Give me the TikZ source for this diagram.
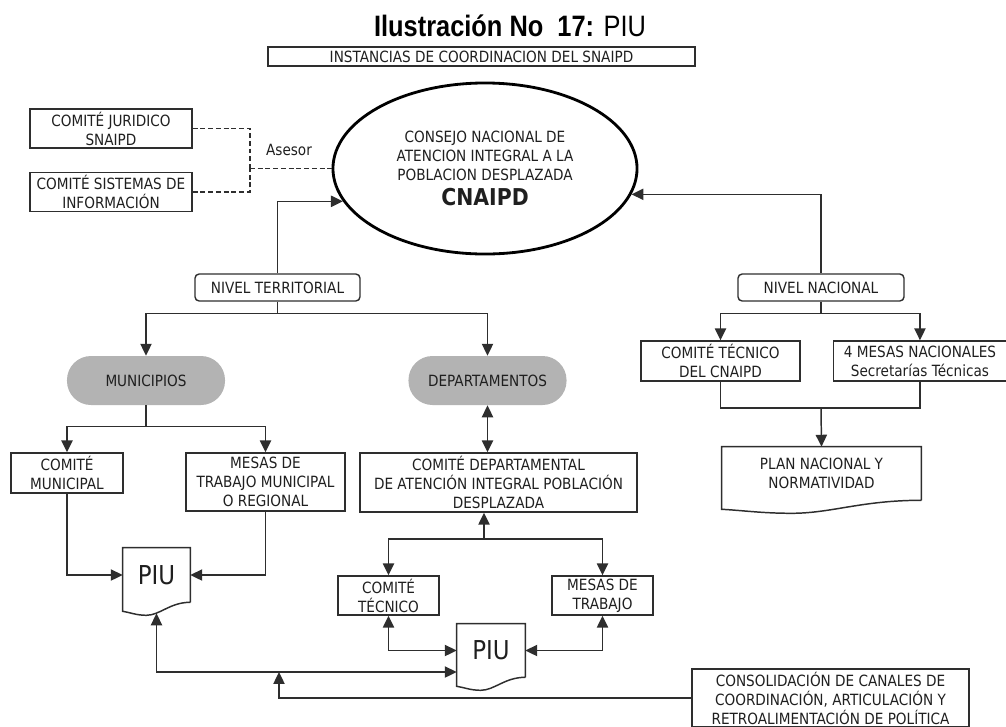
\documentclass[tikz,border=0pt]{standalone}
\usepackage{fontspec}
\setmainfont[FakeStretch=0.88]{DejaVu Sans}
\newfontfamily\titlefont[FakeStretch=0.86]{Liberation Sans}
\usepackage{tikz}
\usetikzlibrary{positioning, shapes.geometric, arrows.meta, calc}
\definecolor{inkgray}{HTML}{1F1F1F}
\definecolor{linegray}{HTML}{2E2E2E}
\definecolor{pillgray}{HTML}{B3B3B3}
\newcommand{\boxfont}{\fontsize{11}{13.5}\selectfont}
\newcommand{\piufont}{\fontsize{18.5}{21}\selectfont}
\tikzstyle{box} = [rectangle, draw=linegray, line width=1pt, text=inkgray, align=center, inner sep=1pt, font=\boxfont]
\tikzstyle{tier} = [box, rounded corners=3pt, minimum width=4.125cm, minimum height=0.675cm]
\tikzstyle{pill} = [rectangle, rounded corners=0.6cm, fill=pillgray, text=inkgray, font=\boxfont, minimum width=3.95cm, minimum height=1.225cm]
\tikzstyle{council} = [ellipse, draw=black, line width=2pt, text=inkgray, align=center, font=\boxfont, minimum width=7.6cm, minimum height=4.275cm, inner sep=0pt]
\tikzstyle{doc} = [rectangle, text=inkgray, align=center, inner sep=0pt, font=\boxfont]
\tikzstyle{wire} = [line width=1.05pt, draw=linegray]
\tikzstyle{arrow} = [wire, ->, >={Triangle[length=8.5pt,width=8pt]}]
\tikzstyle{dblarrow} = [arrow, <->]
\tikzstyle{advice} = [line width=0.9pt, draw=linegray, dash pattern=on 3.5pt off 2pt]
\newcommand{\docoutline}[1]{%
  \draw[wire] (#1.south east) -- (#1.north east) -- (#1.north west) -- ($(#1.south west)+(0,9)$)
    .. controls ($(#1.south west)!0.1!(#1.south east)+(0,10)$) and ($(#1.south west)!0.2!(#1.south east)+(0,13)$) .. ($(#1.south west)!0.35!(#1.south east)+(0,13)$)
    .. controls ($(#1.south west)!0.55!(#1.south east)+(0,13)$) and ($(#1.south west)!0.7!(#1.south east)$) .. (#1.south east);
  \coordinate (#1-b) at ($(#1.south)+(0,11)$);}

\begin{document}
\begin{tikzpicture}[x=0.025cm, y=-0.025cm]
        \useasboundingbox (0,0) rectangle (1006,726);
        \clip (0,0) rectangle (1006,726);
        \node[text=black] (title) at (510,26) {\titlefont\fontsize{21}{24}\selectfont\bfseries Ilustración No\ \ 17: \mdseries PIU};
        \node[box, minimum width=10.675cm, minimum height=0.475cm] (inst) at (481.5,56.5) {INSTANCIAS DE COORDINACION DEL SNAIPD};

        \node[box, minimum width=4.05cm, minimum height=0.975cm]                      (jur)    at (111,128.5) {COMITÉ JURIDICO\\SNAIPD};
        \node[box, minimum width=4.05cm, minimum height=0.975cm, below=0.575cm of jur] (sis)                 {COMITÉ SISTEMAS DE\\INFORMACIÓN};
        \node[text=inkgray, font=\boxfont]                                            (asesor) at (289,150)   {Asesor};
        \node[council] (ell) at (485,168.5) {CONSEJO NACIONAL DE\\ATENCION INTEGRAL A LA\\POBLACION DESPLAZADA\\[4pt]{\fontsize{16.5}{19}\selectfont\bfseries CNAIPD}};

        \node[tier]                        (nter) at (277.5,287.5) {NIVEL TERRITORIAL};
        \node[tier, minimum width=4.15cm]  (nnac) at (821,287.5)   {NIVEL NACIONAL};
        \node[pill]                        (muni) at (146,380.5)   {MUNICIPIOS};
        \node[pill]                        (dep)  at (487.5,380.5) {DEPARTAMENTOS};

        \node[box, minimum width=3.975cm, minimum height=1cm]                     (ctc) at (720.5,361) {COMITÉ TÉCNICO\\DEL CNAIPD};
        \node[box, minimum width=4.325cm, minimum height=1cm, right=0.8cm of ctc] (mn4)                {4 MESAS NACIONALES\\Secretarías Técnicas};
        \node[doc, minimum width=4.975cm, minimum height=1.325cm]                 (plan) at (821.5,473.5) {PLAN NACIONAL Y\\NORMATIVIDAD};

        \node[box, minimum width=2.8cm, minimum height=1cm]       (cmun) at (67,473)     {COMITÉ\\MUNICIPAL};
        \node[box, minimum width=3.975cm, minimum height=1.45cm]  (mtm)  at (265.5,482)  {MESAS DE\\TRABAJO MUNICIPAL\\O REGIONAL};
        \node[box, minimum width=6.925cm, minimum height=1.475cm] (cdep) at (498.5,482.5) {COMITÉ DEPARTAMENTAL\\DE ATENCIÓN INTEGRAL POBLACIÓN\\DESPLAZADA};
        \node[doc, font=\piufont, minimum width=1.675cm, minimum height=1.35cm] (piu1) at (156.5,575) {PIU};
        \node[box, minimum width=2.525cm, minimum height=0.975cm] (ctec) at (388.5,595.5) {COMITÉ\\TÉCNICO};
        \node[box, minimum width=2.525cm, minimum height=0.975cm] (mtd)  at (602.5,595.5) {MESAS DE\\TRABAJO};
        \node[doc, font=\piufont, minimum width=1.7cm, minimum height=1.325cm]  (piu2) at (491,650.5) {PIU};
        \node[box, minimum width=6.925cm, minimum height=1.45cm]  (cons) at (830.5,698)  {CONSOLIDACIÓN DE CANALES DE\\COORDINACIÓN, ARTICULACIÓN Y\\RETROALIMENTACIÓN DE POLÍTICA};

        \docoutline{piu1}
        \docoutline{piu2}
        \docoutline{plan}

        \coordinate (adv) at (250,168.5);
        \draw[advice] (jur.east) -| (adv);
        \draw[advice] (sis.east) -| (adv);
        \draw[advice] (adv) -- (ell.west);

        \draw[arrow] (nter.north) |- (ell.193);
        \draw[arrow] (nnac.north) |- (ell.350);

        \draw[wire]  (nter.south) -- ++(0,12) coordinate (tsplit);
        \draw[arrow] (tsplit) -| (muni.north);
        \draw[arrow] (tsplit) -| (dep.north);
        \draw[wire]  (nnac.south) -- ++(0,12) coordinate (nsplit);
        \draw[arrow] (nsplit) -| (ctc.north);
        \draw[arrow] (nsplit) -| (mn4.north);
        \coordinate (nmerge) at (821,408);
        \draw[wire]  (ctc.south) |- (nmerge) -| (mn4.south);
        \draw[arrow] (nmerge) -- (plan.north);

        \draw[wire]  (muni.south) -- ++(0,21) coordinate (msplit);
        \draw[arrow] (msplit) -| (cmun.north);
        \draw[arrow] (msplit) -| (mtm.north);
        \draw[dblarrow] (dep.south) -- (dep.south |- cdep.north);
        \draw[arrow] (cmun.south) |- (piu1.west);
        \draw[arrow] (mtm.south) |- (piu1.east);

        \coordinate (dsplit) at (484,539);
        \draw[arrow] (dsplit) -- (dsplit |- cdep.south);
        \draw[arrow] (dsplit) -| (ctec.north);
        \draw[arrow] (dsplit) -| (mtd.north);
        \draw[dblarrow] (ctec.south) |- (piu2.west);
        \draw[dblarrow] (mtd.south) |- (piu2.east);
        \draw[dblarrow] (piu1-b) |- ($(piu2.west)+(0,21.5)$);
        \coordinate (fb) at (279,672);
        \draw[arrow] (cons.west) -| (fb);
    \end{tikzpicture}
\end{document}
